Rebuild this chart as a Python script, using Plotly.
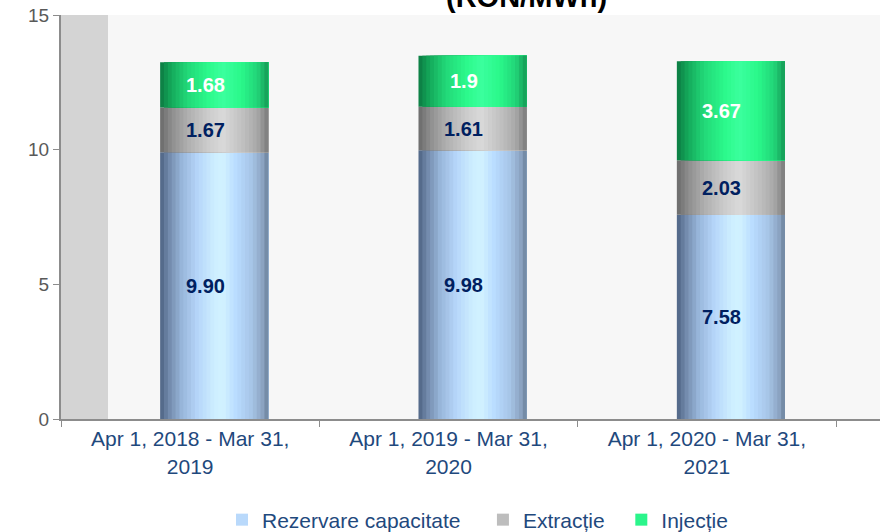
import plotly.graph_objects as go

# ---------------- data ----------------
categories = [
    "Apr 1, 2018 - Mar 31,<br>2019",
    "Apr 1, 2019 - Mar 31,<br>2020",
    "Apr 1, 2020 - Mar 31,<br>2021",
]
rezervare = [9.90, 9.98, 7.58]
extractie = [1.67, 1.61, 2.03]
injectie = [1.68, 1.90, 3.67]
series_names = ["Rezervare capacitate", "Extracție", "Injecție"]
y_ticks = [0, 5, 10, 15]
title_text = "(RON/MWh)"

# ---------------- styles ----------------
FONT = "Liberation Sans, Arial, sans-serif"
BAR_W = 0.4186
BAR_OFF = -0.1163
N_STRIPS = 28

gradients = {
    "Rezervare capacitate": [(0, "#4d6382"), (0.08, "#7189aa"), (0.2, "#98b6da"), (0.35, "#b6d6fa"),
                             (0.5, "#cdeeff"), (0.58, "#d2f2ff"), (0.7, "#b9dcff"), (0.85, "#a6c4e6"),
                             (0.95, "#8aa2c0"), (1, "#6a7f99")],
    "Extracție": [(0, "#6a6a6a"), (0.1, "#8c8c8c"), (0.25, "#aeaeae"), (0.45, "#cdcdcd"),
                  (0.58, "#d9d9d9"), (0.75, "#c2c2c2"), (0.9, "#a8a8a8"), (1, "#7a7a7a")],
    "Injecție": [(0, "#0b7a42"), (0.1, "#14a85a"), (0.25, "#22d878"), (0.45, "#2cfa8c"),
                 (0.58, "#3bff9e"), (0.75, "#2af88a"), (0.9, "#22d478"), (1, "#159a55")],
}
legend_colors = {"Rezervare capacitate": "#b9d9fb", "Extracție": "#bdbdbd", "Injecție": "#2bf58b"}
legend_pad = {"Rezervare capacitate": 3, "Extracție": 2, "Injecție": 0}
label_colors = {"Rezervare capacitate": "#002060", "Extracție": "#002060", "Injecție": "#ffffff"}
label_fmt = {"Rezervare capacitate": "{:.2f}", "Extracție": "{:g}", "Injecție": "{:g}"}


def hex2rgb(h):
    h = h.lstrip("#")
    return tuple(int(h[i:i + 2], 16) for i in (0, 2, 4))


def grad_color(stops, t):
    for (p0, c0), (p1, c1) in zip(stops[:-1], stops[1:]):
        if p0 <= t <= p1:
            f = 0 if p1 == p0 else (t - p0) / (p1 - p0)
            a, b = hex2rgb(c0), hex2rgb(c1)
            r = [round(a[i] + (b[i] - a[i]) * f) for i in range(3)]
            return "rgb({},{},{})".format(*r)
    return stops[-1][1]


fig = go.Figure()

series = [rezervare, extractie, injectie]
bases = [[0] * len(categories)]
for s in series[:-1]:
    bases.append([b + v for b, v in zip(bases[-1], s)])

annotations = []
for name, vals, base in zip(series_names, series, bases):
    stops = gradients[name]
    dw = BAR_W / N_STRIPS
    for k in range(N_STRIPS):
        t = (k + 0.5) / N_STRIPS
        fig.add_trace(go.Bar(
            x=categories, y=vals, base=base,
            offset=BAR_OFF + k * dw, width=BAR_W - k * dw,
            marker=dict(color=grad_color(stops, t), line=dict(width=0)),
            showlegend=False, hoverinfo="skip",
        ))
    # legend entry
    fig.add_trace(go.Bar(
        x=categories, y=[None] * len(categories), name=name + "\u00a0" * legend_pad[name],
        marker=dict(color=legend_colors[name], line=dict(width=0)),
        showlegend=True, hoverinfo="skip",
    ))
    for c, v, b in zip(categories, vals, base):
        annotations.append(dict(
            x=c, y=b + v / 2, xref="x", yref="y", text="<b>" + label_fmt[name].format(v) + "</b>",
            showarrow=False, xshift=15,
            font=dict(family=FONT, size=20, color=label_colors[name]),
        ))

annotations.append(dict(
    x=0.568, y=1, xref="paper", yref="paper", xanchor="center", yanchor="bottom",
    text="<b>" + title_text + "</b>", showarrow=False, yshift=0,
    font=dict(family=FONT, size=29, color="#000000"),
))

fig.update_layout(
    width=880, height=532,
    margin=dict(l=61, r=0, t=15, b=113, autoexpand=False),
    paper_bgcolor="#ffffff", plot_bgcolor="#f7f7f7",
    barmode="overlay",
    font=dict(family=FONT),
    showlegend=True,
    legend=dict(orientation="h", x=(222 - 61) / 819, xanchor="left", y=-0.25, yanchor="middle",
                font=dict(family=FONT, size=21, color="#1F497D"), traceorder="normal",
                itemwidth=30, bgcolor="rgba(0,0,0,0)"),
    annotations=annotations,
    shapes=[dict(type="rect", xref="paper", yref="paper", x0=0, x1=47 / 819, y0=0, y1=1,
                 fillcolor="#d4d4d4", line=dict(width=0), layer="below")],
)
fig.update_xaxes(
    type="category", range=[-0.5, 2.67], showgrid=False, zeroline=False, automargin=False,
    showline=True, linecolor="#8c8c8c", linewidth=2,
    ticks="outside", tickson="boundaries", ticklen=6, tickcolor="#8c8c8c",
    tickfont=dict(family=FONT, size=21, color="#1F497D"),
)
fig.update_yaxes(
    range=[0, 15], tickvals=y_ticks, showgrid=False, zeroline=False, automargin=False,
    showline=True, linecolor="#8c8c8c", linewidth=2,
    ticks="outside", ticklen=6, tickcolor="#8c8c8c",
    tickfont=dict(family=FONT, size=19, color="#595959"),
)

fig.write_html("out.html", config={"displayModeBar": False},
               post_script="document.body.style.margin='0';")
